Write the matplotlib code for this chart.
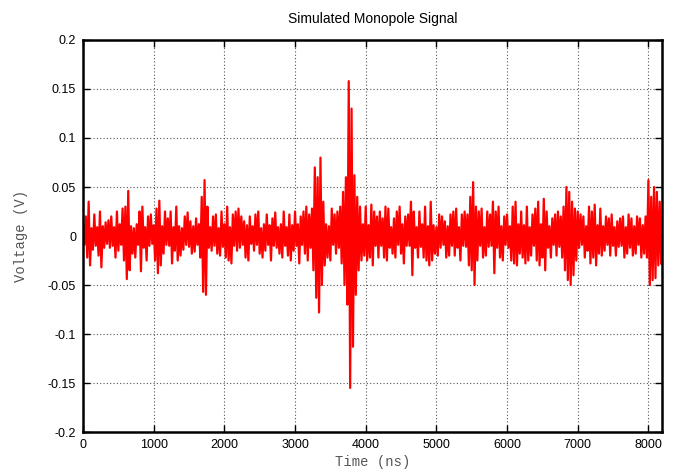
#!/usr/bin/env python3
"""
Simulated monopole signal, gnuplot-like look.
Voltages read off the reference trace, one sample every 20 ns (values in mV).
"""

import numpy as np
import matplotlib.pyplot as plt
from matplotlib.ticker import FuncFormatter, MultipleLocator

step_ns = 20

# one row = 200 ns
signal_mv = [
    12, -9, 20, -22, 35, -30, 8, -14, 22, -10,
    9, -20, 25, -32, 10, -12, 14, -8, 16, -12,
    20, -10, 9, -22, 25, -15, 12, -9, 28, -25,
    30, -44, 46, -35, 10, -18, 8, -22, 12, -9,
    25, -36, 30, -12, 9, -25, 20, -10, 22, -8,
    11, -25, 28, -38, 36, -30, 10, -18, 25, -9,
    18, -10, 25, -28, 9, -15, 30, -25, 10, -20,
    8, -14, 20, -9, 24, -11, 15, -18, 10, -16,
    18, -9, 12, -22, 40, -57, 57, -60, 30, -12,
    9, -15, 20, -10, 22, -18, 8, -20, 25, -11,
    12, -22, 30, -25, 9, -28, 22, -10, 25, -15,
    28, -12, 20, -9, 15, -22, 11, -25, 20, -8,
    10, -15, 22, -9, 25, -18, 8, -22, 12, -15,
    22, -9, 11, -25, 18, -10, 24, -12, 9, -18,
    12, -22, 25, -10, 9, -20, 22, -25, 11, -15,
    25, -10, 12, -28, 20, -9, 25, -18, 30, -25,
    22, -12, 28, -35, 70, -63, 60, -78, 80, -50,
    35, -30, 12, -22, 10, -25, 28, -9, 22, -18,
    25, -12, 30, -28, 45, -50, 60, -70, 158, -155,
    130, -113, 62, -60, 40, -35, 30, -25, 12, -20,
    30, -25, 11, -22, 32, -30, 25, -10, 20, -22,
    25, -10, 18, -22, 30, -25, 28, -12, 9, -18,
    18, -22, 25, -9, 30, -18, 12, -28, 20, -10,
    22, -10, 35, -40, 25, -12, 9, -22, 25, -11,
    12, -22, 30, -25, 10, -30, 35, -25, 11, -18,
    9, -20, 22, -12, 20, -9, 15, -22, 10, -20,
    22, -10, 25, -20, 28, -12, 9, -25, 22, -10,
    25, -11, 22, -30, 40, -35, 55, -50, 30, -25,
    25, -10, 28, -22, 9, -20, 25, -11, 22, -10,
    35, -38, 25, -12, 30, -22, 10, -25, 20, -9,
    22, -12, 10, -25, 30, -28, 35, -30, 12, -18,
    25, -22, 11, -28, 30, -25, 9, -20, 22, -10,
    28, -25, 35, -30, 12, -22, 38, -35, 25, -12,
    10, -22, 18, -9, 22, -20, 25, -11, 20, -22,
    30, -35, 50, -45, 45, -50, 35, -40, 28, -25,
    25, -12, 22, -9, 20, -22, 10, -15, 30, -28,
    25, -22, 32, -30, 11, -18, 28, -20, 10, -15,
    20, -9, 18, -20, 22, -10, 9, -20, 15, -11,
    18, -10, 20, -22, 9, -18, 22, -12, 18, -20,
    10, -18, 20, -9, 18, -22, 11, -18, 20, -22,
    57, -50, 40, -45, 50, -43, 45, -30, 35, -28,
]

x_ticks = [0, 1000, 2000, 3000, 4000, 5000, 6000, 7000, 8000]


def main():
    voltage = np.array(signal_mv) / 1000.0
    time_ns = np.arange(len(voltage)) * step_ns

    fig = plt.figure(figsize=(6.77, 4.75), dpi=100)
    ax = fig.add_axes([0.1226, 0.0905, 0.8552, 0.8253])

    ax.plot(time_ns, voltage, '-', color='#ff0000', linewidth=1.6)

    ax.set_xlim(0, 8192)
    ax.set_ylim(-0.2, 0.2)
    ax.set_xticks(x_ticks)
    ax.yaxis.set_major_locator(MultipleLocator(0.05))
    ax.yaxis.set_major_formatter(FuncFormatter(lambda v, p: '%g' % round(v, 3)))

    ax.grid(True, color='#555555', linestyle=(0, (1, 2)), linewidth=0.8)
    ax.tick_params(direction='in', top=True, right=True, length=5, width=1.0,
                   labelsize=9, pad=5)
    for lab in ax.get_xticklabels() + ax.get_yticklabels():
        lab.set_family(['Liberation Sans', 'DejaVu Sans'])
    for sp in ax.spines.values():
        sp.set_linewidth(1.8)

    ax.set_title('Simulated Monopole Signal', fontsize=10,
                 family=['Liberation Sans', 'DejaVu Sans'], pad=12)
    ax.set_xlabel('Time (ns)', fontsize=10, color='#555555',
                  family=['Liberation Mono', 'DejaVu Sans Mono'], labelpad=3)
    ax.set_ylabel('Voltage (V)', fontsize=10, color='#555555',
                  family=['Liberation Mono', 'DejaVu Sans Mono'], labelpad=14)

    plt.savefig('out.png', dpi=100)


if __name__ == "__main__":
    main()
